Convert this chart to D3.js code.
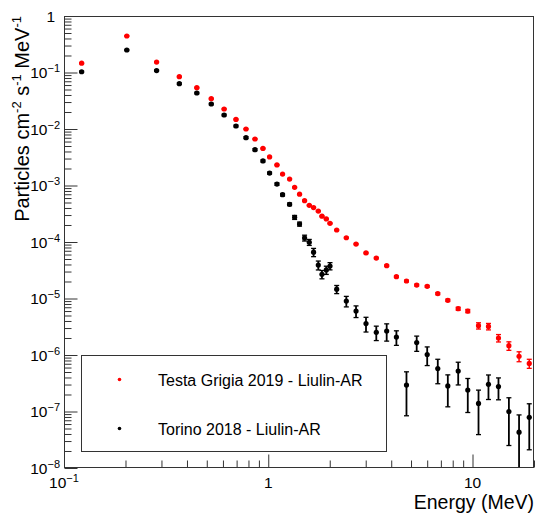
<!DOCTYPE html>
<html>
<head>
<meta charset="utf-8">
<script src="https://cdn.jsdelivr.net/npm/d3@7"></script>
<style>
  html, body { margin: 0; padding: 0; background: #fff; }
  svg { display: block; font-family: "Liberation Sans", Arial, Helvetica, sans-serif; }
</style>
</head>
<body>
<svg id="chart" width="535" height="513"></svg>
<script>
// ---------------- data ----------------
const energy = [0.122, 0.203, 0.284, 0.367, 0.447, 0.526, 0.608, 0.695, 0.778, 0.861,
  0.942, 1.015, 1.103, 1.175, 1.272, 1.346, 1.423, 1.506, 1.588, 1.667,
  1.758, 1.832, 1.924, 2.006, 2.163, 2.411, 2.69, 3.01, 3.38, 3.80,
  4.24, 4.75, 5.33, 6.0, 6.76, 7.57, 8.51, 9.48, 10.7, 11.97,
  13.4, 15.07, 16.9, 18.96];

const testaGrigia = [0.146, 0.443, 0.153, 0.0843, 0.0538, 0.0344, 0.0226, 0.0148, 0.0100, 0.00665,
  0.00453, 0.00320, 0.00231, 0.00159, 0.00130, 0.000927, 0.000703, 0.000538, 0.000446, 0.000406,
  0.000352, 0.000287, 0.000256, 0.000214, 0.000163, 0.000119, 9.2e-5, 6.4e-5, 5.2e-5, 3.81e-5,
  2.43e-5, 2.04e-5, 1.73e-5, 1.64e-5, 1.22e-5, 9.3e-6, 6.6e-6, 6.0e-6, 3.3e-6, 3.2e-6,
  2.0e-6, 1.46e-6, 9.5e-7, 7.1e-7];
const testaGrigiaErr = [0.003, 0.008, 0.003, 0.0016, 0.001, 0.0007, 0.0005, 0.0003, 0.0002, 0.00013,
  9e-5, 6e-5, 4.5e-5, 3.2e-5, 2.6e-5, 1.9e-5, 1.4e-5, 1.1e-5, 9e-6, 8e-6,
  7e-6, 6e-6, 5e-6, 4.5e-6, 3.5e-6, 2.6e-6, 2.1e-6, 1.6e-6, 1.4e-6, 1.1e-6,
  8e-7, 7e-7, 6.5e-7, 6.5e-7, 5.5e-7, 4.5e-7, 4e-7, 4e-7, 4.2e-7, 4.2e-7,
  3.0e-7, 2.5e-7, 1.9e-7, 1.3e-7];

const torino = [0.103, 0.25, 0.108, 0.0634, 0.0434, 0.0277, 0.0177, 0.0113, 0.00703, 0.0043,
  0.00272, 0.00166, 0.00106, 0.000687, 0.000465, 0.000273, 0.000208, 0.000118, 9.9e-5, 6.6e-5,
  3.9e-5, 2.68e-5, 3.2e-5, 3.76e-5, 1.46e-5, 9.0e-6, 6.0e-6, 3.6e-6, 2.52e-6, 2.66e-6,
  2.08e-6, 2.94e-7, 1.66e-6, 1.02e-6, 5.75e-7, 2.83e-7, 5.2e-7, 2.4e-7, 1.39e-7, 3.03e-7,
  2.77e-7, 1.0e-7, 4.3e-8, 7.9e-8];
const torinoErr = [0.003, 0.006, 0.003, 0.002, 0.0014, 0.0009, 0.0006, 0.0004, 0.00026, 0.00017,
  0.00011, 7e-5, 5e-5, 3.5e-5, 2.6e-5, 2.2e-5, 1.7e-5, 1.4e-5, 1.2e-5, 1.1e-5,
  7e-6, 4.5e-6, 5.3e-6, 5.5e-6, 2.4e-6, 1.9e-6, 1.4e-6, 1.05e-6, 0.72e-6, 0.9e-6,
  0.6e-6, 2.1e-7, 0.5e-6, 0.37e-6, 2.65e-7, 1.62e-7, 2.25e-7, 1.44e-7, 1.0e-7, 1.4e-7,
  1.16e-7, 7.5e-8, 4.4e-8, 5.8e-8];

const seriesNames = ["Testa Grigia 2019 - Liulin-AR", "Torino 2018 - Liulin-AR"];
const seriesColors = ["#ff0000", "#000000"];

const xMajorTicks = [0.1, 1, 10];
const xTickLabels = ["10^\u22121", "1", "10"];
const yMajorTicks = [1e-8, 1e-7, 1e-6, 1e-5, 1e-4, 1e-3, 1e-2, 1e-1, 1];
const yTickLabels = ["10^\u22128", "10^\u22127", "10^\u22126", "10^\u22125", "10^\u22124",
  "10^\u22123", "10^\u22122", "10^\u22121", "1"];
const xTitle = "Energy (MeV)";
const yTitleParts = [["Particles cm", ""], ["-2", "sup"], [" s", ""], ["-1", "sup"], [" MeV", ""], ["-1", "sup"]];

// ---------------- layout ----------------
const L = 64, T = 16, R = 534, B = 468;
const svg = d3.select("#chart");
const x = d3.scaleLog().domain([0.1, 20]).range([L, R]);
const y = d3.scaleLog().domain([1e-8, 1]).range([B, T]);
const axisColor = "#333";

// minor ticks from library
const isMajor = v => Math.abs(Math.log10(v) - Math.round(Math.log10(v))) < 1e-9;
const xMinor = x.ticks().filter(v => !isMajor(v));
const yMinor = y.ticks().filter(v => !isMajor(v));

function styleAxis(g) {
  g.select(".domain").remove();
  g.selectAll(".tick line").attr("stroke", axisColor).attr("stroke-width", 1);
  g.selectAll(".tick text").remove();
}

svg.append("g").attr("transform", `translate(${L + 0.5},0)`)
  .call(d3.axisLeft(y).tickValues(yMajorTicks).tickSize(-13).tickFormat(() => ""))
  .call(styleAxis);
svg.append("g").attr("transform", `translate(${L + 0.5},0)`)
  .call(d3.axisLeft(y).tickValues(yMinor).tickSize(-7).tickFormat(() => ""))
  .call(styleAxis);
svg.append("g").attr("transform", `translate(0,${B - 0.5})`)
  .call(d3.axisBottom(x).tickValues(xMajorTicks).tickSize(-13).tickFormat(() => ""))
  .call(styleAxis);
svg.append("g").attr("transform", `translate(0,${B - 0.5})`)
  .call(d3.axisBottom(x).tickValues(xMinor).tickSize(-7).tickFormat(() => ""))
  .call(styleAxis);

// frame
svg.append("rect").attr("x", L + 0.5).attr("y", T + 0.5)
  .attr("width", R - L - 1).attr("height", B - T - 1)
  .attr("fill", "none").attr("stroke", axisColor).attr("stroke-width", 1);

// tick labels with superscripts
function supLabel(sel, label, size, supSize) {
  const parts = label.split("^");
  sel.append("tspan").text(parts[0]).attr("font-size", size);
  if (parts.length > 1) {
    sel.append("tspan").text(parts[1]).attr("font-size", supSize).attr("dy", -6);
  }
}
yMajorTicks.forEach((v, i) => {
  const t = svg.append("text")
    .attr("x", yTickLabels[i] === "1" ? 55 : 60)
    .attr("y", y(v) + 5.5)
    .attr("text-anchor", "end").attr("fill", "#000");
  supLabel(t, yTickLabels[i], 15.5, 11);
});
xMajorTicks.forEach((v, i) => {
  const t = svg.append("text")
    .attr("x", x(v)).attr("y", 488)
    .attr("text-anchor", "middle").attr("fill", "#000");
  supLabel(t, xTickLabels[i], 15.5, 11);
});

// axis titles
svg.append("text").attr("x", R).attr("y", 508.5).attr("text-anchor", "end")
  .attr("font-size", 19.5).attr("fill", "#000").text(xTitle);

const yt = svg.append("text").attr("transform", `translate(29,${T}) rotate(-90)`)
  .attr("text-anchor", "end").attr("font-size", 20).attr("fill", "#000");
yTitleParts.forEach(([txt, kind], i) => {
  const prev = i > 0 ? yTitleParts[i - 1][1] : "";
  const ts = yt.append("tspan").text(txt);
  if (kind === "sup") ts.attr("font-size", 13).attr("dy", -8);
  else if (prev === "sup") ts.attr("dy", 8);
});

// data
svg.append("clipPath").attr("id", "clip").append("rect")
  .attr("x", L + 1).attr("y", T + 1).attr("width", R - L - 2).attr("height", B - T - 2);
const plot = svg.append("g").attr("clip-path", "url(#clip)");

const series = [
  { vals: testaGrigia, errs: testaGrigiaErr, color: seriesColors[0], sw: 1.5 },
  { vals: torino, errs: torinoErr, color: seriesColors[1], sw: 1.8 }
];
series.forEach(s => {
  const pts = energy.map((e, i) => ({ e, v: s.vals[i], err: s.errs[i] }));
  const g = plot.append("g");
  const hiY = d => y(d.v + d.err);
  const loY = d => (d.v - d.err > 0 ? y(d.v - d.err) : B + 5);
  g.selectAll("line.bar").data(pts).enter().append("line")
    .attr("x1", d => x(d.e)).attr("x2", d => x(d.e))
    .attr("y1", hiY).attr("y2", loY)
    .attr("stroke", s.color).attr("stroke-width", s.sw);
  g.selectAll("line.capHi").data(pts).enter().append("line")
    .attr("x1", d => x(d.e) - 2.5).attr("x2", d => x(d.e) + 2.5)
    .attr("y1", hiY).attr("y2", hiY)
    .attr("stroke", s.color).attr("stroke-width", 1.3);
  g.selectAll("line.capLo").data(pts).enter().append("line")
    .attr("x1", d => x(d.e) - 2.5).attr("x2", d => x(d.e) + 2.5)
    .attr("y1", loY).attr("y2", loY)
    .attr("stroke", s.color).attr("stroke-width", 1.3);
  g.selectAll("circle").data(pts).enter().append("circle")
    .attr("cx", d => x(d.e)).attr("cy", d => y(d.v)).attr("r", 2.6)
    .attr("fill", s.color);
});

// legend
const leg = svg.append("g");
leg.append("rect").attr("x", 81.5).attr("y", 355.5).attr("width", 305).attr("height", 96)
  .attr("fill", "#fff").attr("stroke", axisColor).attr("stroke-width", 1);
seriesNames.forEach((name, i) => {
  const cy = 379.5 + i * 49;
  leg.append("circle").attr("cx", 119.5).attr("cy", cy).attr("r", 1.8).attr("fill", seriesColors[i]);
  leg.append("text").attr("x", 158).attr("y", cy + 6).attr("font-size", 16)
    .attr("fill", "#000").text(name);
});
</script>
</body>
</html>
